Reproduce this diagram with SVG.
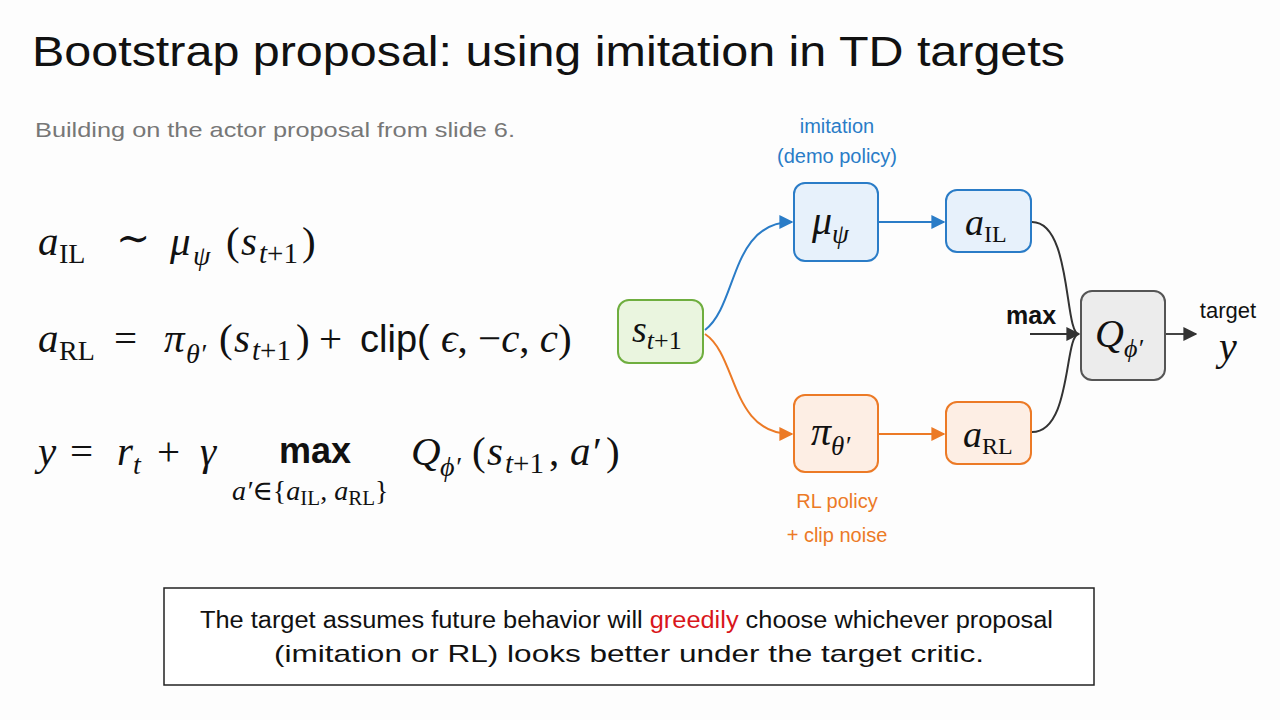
<svg xmlns="http://www.w3.org/2000/svg" width="1280" height="720" viewBox="0 0 1280 720">
<defs>
<style>
.hand{font-family:"Liberation Sans","DejaVu Sans",sans-serif;}
.m{font-family:"Liberation Serif","DejaVu Serif",serif;font-style:italic;fill:#111;}
.r{font-style:normal;}
.sans{font-family:"Liberation Sans","DejaVu Sans",sans-serif;font-style:normal;}
.box{stroke-width:2;}
.blue{fill:#e7f1fb;stroke:#2a7cc7;}
.orange{fill:#fdeee4;stroke:#ec7a26;}
.green{fill:#eaf5df;stroke:#6fae3f;}
.gray{fill:#ececec;stroke:#555;}
.conn{fill:none;stroke-width:2;}
</style>
<marker id="ab" viewBox="0 0 10 10" refX="9" refY="5" markerWidth="7" markerHeight="7" orient="auto"><path d="M0,0 L10,5 L0,10 z" fill="#2a7cc7"/></marker>
<marker id="ao" viewBox="0 0 10 10" refX="9" refY="5" markerWidth="7" markerHeight="7" orient="auto"><path d="M0,0 L10,5 L0,10 z" fill="#ec7a26"/></marker>
<marker id="ak" viewBox="0 0 10 10" refX="9" refY="5" markerWidth="7" markerHeight="7" orient="auto"><path d="M0,0 L10,5 L0,10 z" fill="#333"/></marker>
</defs>
<rect width="1280" height="720" fill="#fdfdfd"/>

<text class="hand" x="32" y="66" font-size="43" fill="#111" textLength="1033" lengthAdjust="spacingAndGlyphs">Bootstrap proposal: using imitation in TD targets</text>
<text class="hand" x="35" y="137" font-size="21" fill="#777" textLength="480" lengthAdjust="spacingAndGlyphs">Building on the actor proposal from slide 6.</text>

<!-- equations -->
<g id="eq1" class="m" font-size="41">
<text x="38" y="255">a</text>
<text x="59" y="263" font-size="28" class="r">IL</text>
<text x="116" y="252" class="r">∼</text>
<text x="170" y="255">μ</text>
<text x="193" y="265" font-size="28">ψ</text>
<text x="226" y="255" class="r">(</text>
<text x="241" y="255">s</text>
<text x="259" y="263" font-size="29">t<tspan class="r">+1</tspan></text>
<text x="302" y="255" class="r">)</text>
</g>
<g id="eq2" class="m" font-size="41">
<text x="38" y="352">a</text>
<text x="59" y="360" font-size="28" class="r">RL</text>
<text x="114" y="352" class="r">=</text>
<text x="164" y="352">π</text>
<text x="186" y="363" font-size="28">θ′</text>
<text x="219" y="352" class="r">(</text>
<text x="234" y="352">s</text>
<text x="252" y="360" font-size="29">t<tspan class="r">+1</tspan></text>
<text x="296" y="352" class="r">)</text>
<text x="319" y="352" class="r">+</text>
<text x="360" y="352" class="sans" font-size="38">clip(</text>
<text x="441" y="352">ϵ<tspan class="r">, −</tspan>c<tspan class="r">, </tspan>c<tspan class="r">)</tspan></text>
</g>
<g id="eq3" class="m" font-size="41">
<text x="38" y="465">y</text>
<text x="70" y="465" class="r">=</text>
<text x="117" y="465">r</text>
<text x="133" y="474" font-size="28">t</text>
<text x="157" y="465" class="r">+</text>
<text x="200" y="465">γ</text>
<text x="279" y="463" class="sans" font-weight="bold" font-size="36">max</text>
<text x="411" y="465">Q</text>
<text x="440" y="476" font-size="28">ϕ′</text>
<text x="472" y="465" class="r">(</text>
<text x="487" y="465">s</text>
<text x="505" y="473" font-size="29">t<tspan class="r">+1</tspan></text>
<text x="549" y="465" class="r">,</text>
<text x="570" y="465">a′</text>
<text x="606" y="465" class="r">)</text>
<text x="232" y="500" font-size="28">a′<tspan class="r">∈{</tspan>a<tspan class="r" font-size="21" dy="5">IL</tspan><tspan class="r" dy="-5">, </tspan>a<tspan class="r" font-size="21" dy="5">RL</tspan><tspan class="r" dy="-5">}</tspan></text>
</g>

<!-- connectors -->
<g id="connectors">
<path class="conn" d="M705,330 C738,305 730,222 792,222" stroke="#2a7cc7" marker-end="url(#ab)"/>
<path class="conn" d="M705,334 C738,356 730,434 792,434" stroke="#ec7a26" marker-end="url(#ao)"/>
<path class="conn" d="M879,222 L944,222" stroke="#2a7cc7" marker-end="url(#ab)"/>
<path class="conn" d="M879,434 L944,434" stroke="#ec7a26" marker-end="url(#ao)"/>
<path class="conn" d="M1032,222 C1072,222 1064,334 1079,334" stroke="#333" stroke-width="1.6"/>
<path class="conn" d="M1032,432 C1072,432 1064,334 1079,334" stroke="#333" stroke-width="1.6"/>
<path class="conn" d="M1030,334 L1079,334" stroke="#333" stroke-width="1.6" marker-end="url(#ak)"/>
<path class="conn" d="M1166,334 L1196,334" stroke="#444" marker-end="url(#ak)"/>
</g>

<!-- nodes -->
<g id="node-s">
<rect class="box green" x="618" y="300" width="85" height="63" rx="11"/>
<text class="m" x="632" y="342" font-size="38">s<tspan font-size="26" dy="7">t</tspan><tspan class="r" font-size="26">+1</tspan></text>
</g>
<g id="node-mu">
<rect class="box blue" x="794" y="183" width="84" height="78" rx="11"/>
<text class="m" x="812" y="234" font-size="40">μ<tspan font-size="27" dy="9">ψ</tspan></text>
<text class="hand" x="837" y="133" font-size="20" fill="#2a7cc7" text-anchor="middle">imitation</text>
<text class="hand" x="837" y="163" font-size="20" fill="#2a7cc7" text-anchor="middle">(demo policy)</text>
</g>
<g id="node-aIL">
<rect class="box blue" x="946" y="190" width="85" height="62" rx="11"/>
<text class="m" x="965" y="235" font-size="38">a<tspan class="r" font-size="24" dy="7">IL</tspan></text>
</g>
<g id="node-pi">
<rect class="box orange" x="794" y="395" width="84" height="77" rx="11"/>
<text class="m" x="811" y="445" font-size="40">π<tspan font-size="27" dy="10">θ′</tspan></text>
<text class="hand" x="837" y="508" font-size="20" fill="#ec7a26" text-anchor="middle">RL policy</text>
<text class="hand" x="837" y="542" font-size="20" fill="#ec7a26" text-anchor="middle">+ clip noise</text>
</g>
<g id="node-aRL">
<rect class="box orange" x="946" y="402" width="85" height="62" rx="11"/>
<text class="m" x="963" y="447" font-size="38">a<tspan class="r" font-size="24" dy="7">RL</tspan></text>
</g>
<g id="node-Q">
<rect class="box gray" x="1081" y="291" width="84" height="89" rx="11"/>
<text class="m" x="1095" y="347" font-size="40">Q<tspan font-size="26" dy="10">ϕ′</tspan></text>
</g>
<text class="hand" x="1006" y="324" font-size="25" font-weight="bold" fill="#111">max</text>
<text class="hand" x="1228" y="318" font-size="22" fill="#111" text-anchor="middle">target</text>
<text class="m" x="1228" y="360" font-size="40" text-anchor="middle">y</text>

<!-- note -->
<g id="note">
<rect x="164" y="588" width="930" height="97" fill="#fff" stroke="#222" stroke-width="1.5"/>
<text class="hand" x="200" y="628" font-size="23" fill="#111" textLength="853" lengthAdjust="spacingAndGlyphs">The target assumes future behavior will <tspan fill="#d9161b">greedily</tspan> choose whichever proposal</text>
<text class="hand" x="274" y="662" font-size="24" fill="#111" textLength="710" lengthAdjust="spacingAndGlyphs">(imitation or RL) looks better under the target critic.</text>
</g>
</svg>
